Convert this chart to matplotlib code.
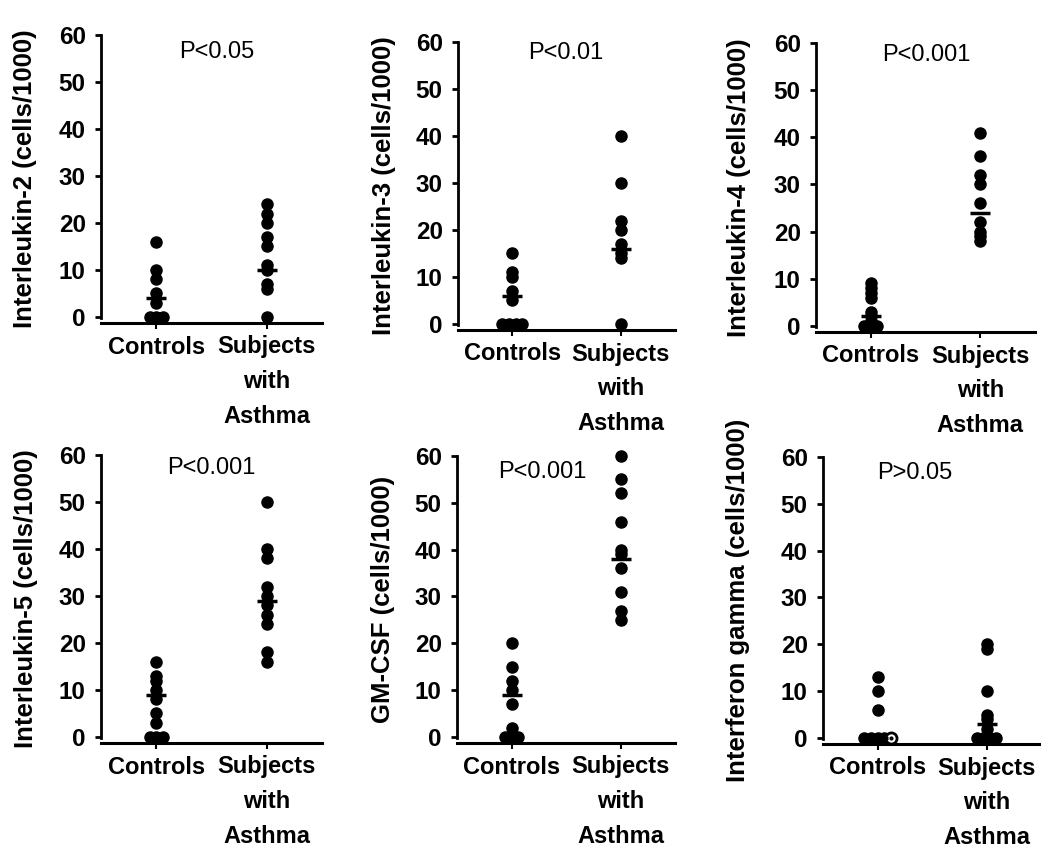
import numpy as np
import matplotlib.pyplot as plt

plt.rcParams['font.family'] = ['Liberation Sans', 'DejaVu Sans']
plt.rcParams['font.weight'] = 'bold'

groups = ['Controls', 'Subjects\nwith\nAsthma']
yticks = [0, 10, 20, 30, 40, 50, 60]

# cells per 1000, one entry per subject
il2_controls = [16, 10, 8, 5, 3, 0, 0, 0]
il2_asthma = [24, 22, 20, 17, 15, 11, 10, 7, 6, 0]
il3_controls = [15, 11, 10, 7, 5, 0, 0, 0, 0]
il3_asthma = [40, 30, 22, 20, 17, 15, 14, 0]
il4_controls = [9, 8, 7, 6, 3, 2, 1, 0, 0, 0]
il4_asthma = [41, 36, 32, 30, 26, 22, 20, 19, 18]
il5_controls = [16, 13, 12, 10, 8, 5, 3, 0, 0, 0]
il5_asthma = [50, 40, 38, 32, 30, 28, 26, 24, 18, 16]
gmcsf_controls = [20, 15, 12, 10, 7, 2, 0, 0, 0]
gmcsf_asthma = [60, 55, 52, 46, 40, 39, 36, 31, 27, 25]
ifn_controls = [13, 10, 6, 0, 0, 0, 0]
ifn_controls_open = [0]
ifn_asthma = [20, 19, 10, 5, 4, 2, 0, 0, 0, 0]

# group means (horizontal bars)
mean_controls = [4, 6, 2, 9, 9, 0]
mean_asthma = [10, 16, 24, 29, 38, 3]

ylabels = ['Interleukin-2 (cells/1000)', 'Interleukin-3 (cells/1000)',
           'Interleukin-4 (cells/1000)', 'Interleukin-5 (cells/1000)',
           'GM-CSF (cells/1000)', 'Interferon gamma (cells/1000)']
pvalues = ['P<0.05', 'P<0.01', 'P<0.001', 'P<0.001', 'P<0.001', 'P>0.05']

controls = [il2_controls, il3_controls, il4_controls, il5_controls, gmcsf_controls, ifn_controls]
asthma = [il2_asthma, il3_asthma, il4_asthma, il5_asthma, gmcsf_asthma, ifn_asthma]
open_controls = [[], [], [], [], [], ifn_controls_open]

# layout in pixels: left, top, right, bottom of each axes
W, H = 1041, 851
rects = [(101, 35, 322, 323), (458, 42, 675, 330), (816, 43, 1035, 332),
         (101, 455, 322, 743), (457, 456, 675, 743), (823, 457, 1041, 744)]
label_off = [64, 62, 65, 63, 62, 73]
ptext_xy = [(0.55, 56.4), (0.49, 57.7), (0.51, 57.4), (0.5, 57.2), (0.28, 56.5), (0.34, 56.5)]


def spread(vals, center, step=0.06):
    # place repeated values side by side
    vals = np.asarray(vals, dtype=float)
    xs = np.full(len(vals), float(center))
    for v in np.unique(vals):
        idx = np.where(vals == v)[0]
        k = len(idx)
        xs[idx] = center + (np.arange(k) - (k - 1) / 2) * step
    return xs


fig = plt.figure(figsize=(W / 100, H / 100), dpi=100)

for i in range(6):
    l, t, r, b = rects[i]
    ax = fig.add_axes([l / W, 1 - b / H, (r - l) / W, (b - t) / H])

    c_all = list(controls[i]) + list(open_controls[i])
    xc = spread(c_all, 0)
    n = len(controls[i])
    ax.plot(xc[:n], c_all[:n], 'o', color='black', ms=8, clip_on=False, zorder=3)
    if open_controls[i]:
        ax.plot(xc[n:], c_all[n:], 'o', mfc='white', mec='black', mew=2, ms=8,
                clip_on=False, zorder=4)
        ax.plot(xc[n:], c_all[n:], 'o', color='black', ms=2, zorder=5)
    xa = spread(asthma[i], 1)
    ax.plot(xa, asthma[i], 'o', color='black', ms=8, clip_on=False, zorder=3)

    ax.plot([0, 1], [mean_controls[i], mean_asthma[i]], '_', color='black',
            ms=15, mew=2.5, zorder=4)

    ax.set_xlim(-0.5, 1.5)
    ax.set_ylim(-1.3, 60)
    ax.set_yticks(yticks)
    ax.set_xticks([0, 1])
    ax.set_xticklabels(groups, fontsize=17, linespacing=1.65, va='top')
    ax.tick_params(axis='y', labelsize=17.5, length=4, width=2, pad=7)
    ax.tick_params(axis='x', length=4, width=1.5, pad=5)
    for s in ['top', 'right']:
        ax.spines[s].set_visible(False)
    ax.spines['left'].set_linewidth(2)
    ax.spines['bottom'].set_linewidth(2.2)
    ax.spines['left'].set_bounds(-0.3, 60)

    ax.set_ylabel(ylabels[i], fontsize=18.5, fontweight='bold')
    ax.yaxis.set_label_coords(-label_off[i] / (r - l), 0.5)

    px, py = ptext_xy[i]
    ax.text(px, py, pvalues[i], fontsize=17, fontweight='normal',
            ha='center', va='center')

fig.savefig('out.png', dpi=100)
